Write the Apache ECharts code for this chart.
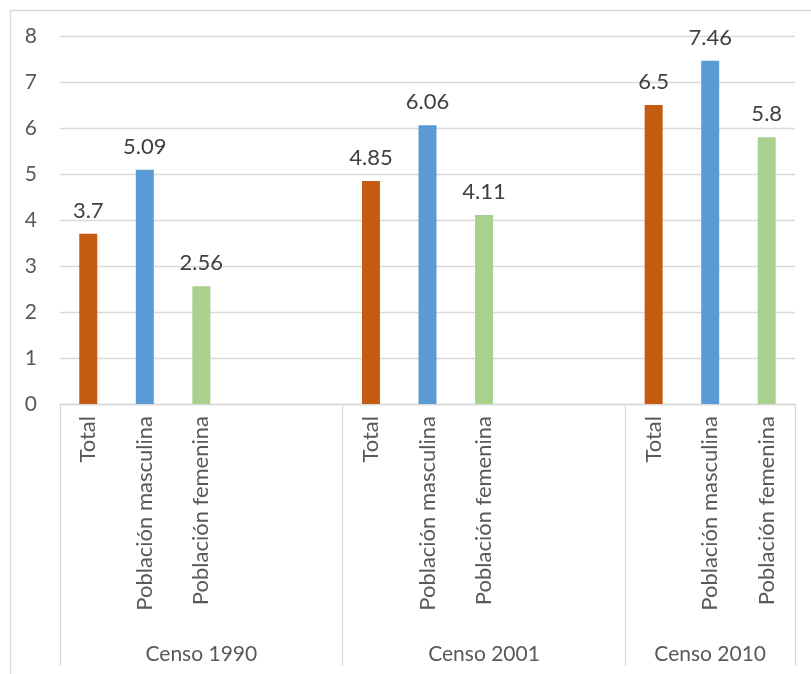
<!DOCTYPE html>
<html><head><meta charset="utf-8">
<script src="https://cdn.jsdelivr.net/npm/echarts@6/dist/echarts.min.js"></script>
<style>html,body{margin:0;padding:0;background:#fff}#c{width:811px;height:674px}</style>
</head><body><div id="c"></div><script>
const groups = ['Censo 1990', 'Censo 2001', 'Censo 2010'];
const subCategories = ['Total', 'Población masculina', 'Población femenina'];
const totalValues = [3.7, 4.85, 6.5];
const maleValues = [5.09, 6.06, 7.46];
const femaleValues = [2.56, 4.11, 5.8];
const blankSlots = [2, 2, 0];
const yMin = 0, yMax = 8, yStep = 1;
const colors = ['#C55A11', '#5B9BD5', '#A9D18E'];

const cats = [], data = [], groupLabelAt = {}, boundaryAt = {};
groups.forEach((g, gi) => {
  const start = cats.length;
  boundaryAt[start] = true;
  const vals = [totalValues[gi], maleValues[gi], femaleValues[gi]];
  subCategories.forEach((s, si) => {
    cats.push(s);
    data.push({ value: vals[si], itemStyle: { color: colors[si] } });
  });
  for (let k = 0; k < blankSlots[gi]; k++) { cats.push(''); data.push('-'); }
  const n = subCategories.length + blankSlots[gi];
  groupLabelAt[start + Math.floor(n / 2)] = g;
});

const FONT = 'Lato';
const chart = echarts.init(document.getElementById('c'), null, { renderer: 'canvas' });
chart.setOption({
  animation: false,
  backgroundColor: '#fff',
  textStyle: { fontFamily: FONT },
  graphic: [{
    type: 'rect', left: 8, top: 8, silent: true,
    shape: { width: 820, height: 680 },
    style: { fill: 'none', stroke: '#D9D9D9', lineWidth: 1.5 }
  }],
  grid: { left: 60, right: 16, top: 36, bottom: 270, containLabel: false },
  xAxis: [{
    type: 'category', data: cats, gridIndex: 0, position: 'bottom',
    axisLine: { show: true, lineStyle: { color: '#D9D9D9', width: 1.3 } },
    axisTick: {
      show: true, alignWithLabel: false, length: 262, inside: false,
      interval: (i) => !!boundaryAt[i],
      lineStyle: { color: '#D9D9D9', width: 1.3 }
    },
    axisLabel: {
      interval: 0, rotate: 90, margin: 12, fontFamily: FONT, fontSize: 22, color: '#595959'
    },
    splitLine: { show: false }
  }, {
    type: 'category', data: cats, gridIndex: 0, position: 'bottom',
    axisLine: { show: false }, axisTick: { show: false }, splitLine: { show: false },
    axisLabel: {
      interval: 0, margin: 240, fontFamily: FONT, fontSize: 21, color: '#595959',
      formatter: (v, i) => groupLabelAt[i] || ''
    }
  }],
  yAxis: {
    type: 'value', min: yMin, max: yMax, interval: yStep,
    axisLine: { show: false }, axisTick: { show: false },
    axisLabel: { margin: 23, fontFamily: FONT, fontSize: 21, color: '#595959' },
    splitLine: { lineStyle: { color: '#D9D9D9', width: 1.3 } }
  },
  series: [{
    type: 'bar', xAxisIndex: 0, yAxisIndex: 0, data: data, barWidth: 18,
    label: {
      show: true, position: 'top', distance: 12, fontFamily: FONT, fontSize: 22, color: '#404040'
    }
  }]
});
</script></body></html>
